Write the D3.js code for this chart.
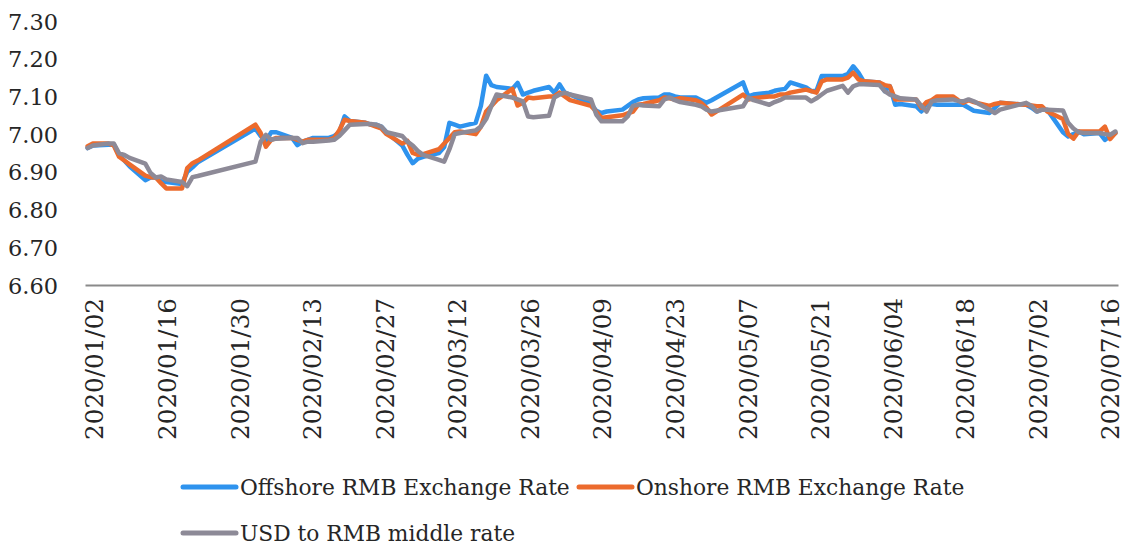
<!DOCTYPE html>
<html>
<head>
<meta charset="utf-8">
<script src="https://cdn.jsdelivr.net/npm/d3@7/dist/d3.min.js"></script>
<style>
  html, body { margin: 0; padding: 0; background: #fff; }
  svg { display: block; }
  text { font-family: "DejaVu Serif", "Liberation Serif", serif; fill: #262626; }
</style>
</head>
<body>
<svg id="chart" width="1126" height="547"></svg>
<script>
// ---- Data (trading days, 2020) ----
const dates = [
  "2020-01-02","2020-01-03","2020-01-06","2020-01-07","2020-01-08","2020-01-09","2020-01-10",
  "2020-01-13","2020-01-14","2020-01-15","2020-01-16","2020-01-17","2020-01-20","2020-01-21",
  "2020-01-22","2020-01-23",
  "2020-02-03","2020-02-04","2020-02-05","2020-02-06","2020-02-07","2020-02-10","2020-02-11",
  "2020-02-12","2020-02-13","2020-02-14","2020-02-17","2020-02-18","2020-02-19","2020-02-20",
  "2020-02-21","2020-02-24","2020-02-25","2020-02-26","2020-02-27","2020-02-28",
  "2020-03-02","2020-03-03","2020-03-04","2020-03-05","2020-03-06","2020-03-09","2020-03-10",
  "2020-03-11","2020-03-12","2020-03-13","2020-03-16","2020-03-17","2020-03-18","2020-03-19",
  "2020-03-20","2020-03-23","2020-03-24","2020-03-25","2020-03-26","2020-03-27","2020-03-30",
  "2020-03-31",
  "2020-04-01","2020-04-02","2020-04-03","2020-04-07","2020-04-08","2020-04-09","2020-04-10",
  "2020-04-13","2020-04-14","2020-04-15","2020-04-16","2020-04-17","2020-04-20","2020-04-21",
  "2020-04-22","2020-04-23","2020-04-24","2020-04-27","2020-04-28","2020-04-29","2020-04-30",
  "2020-05-06","2020-05-07","2020-05-08","2020-05-11","2020-05-12","2020-05-13","2020-05-14",
  "2020-05-15","2020-05-18","2020-05-19","2020-05-20","2020-05-21","2020-05-22","2020-05-25",
  "2020-05-26","2020-05-27","2020-05-28","2020-05-29",
  "2020-06-01","2020-06-02","2020-06-03","2020-06-04","2020-06-05","2020-06-08","2020-06-09",
  "2020-06-10","2020-06-11","2020-06-12","2020-06-15","2020-06-16","2020-06-17","2020-06-18",
  "2020-06-19","2020-06-22","2020-06-23","2020-06-24","2020-06-29","2020-06-30",
  "2020-07-01","2020-07-02","2020-07-03","2020-07-06","2020-07-07","2020-07-08","2020-07-09",
  "2020-07-10","2020-07-13","2020-07-14","2020-07-15","2020-07-16"
];

const offshore = [
  6.963,6.970,6.972,6.972,6.945,6.930,6.915,
  6.878,6.885,6.885,6.875,6.873,6.868,6.900,
  6.912,6.925,
  7.015,6.995,6.980,7.005,7.005,6.990,6.971,
  6.980,6.985,6.990,6.990,6.995,7.005,7.047,
  7.035,7.030,7.025,7.025,7.020,7.005,
  6.970,6.945,6.923,6.935,6.940,6.950,6.966,
  7.030,7.025,7.020,7.030,7.075,7.155,7.130,
  7.125,7.120,7.136,7.105,7.110,7.115,7.125,
  7.110,
  7.132,7.110,7.105,7.080,7.062,7.056,7.060,
  7.065,7.075,7.085,7.092,7.095,7.097,7.105,
  7.105,7.100,7.097,7.097,7.090,7.083,7.090,
  7.137,7.100,7.105,7.110,7.115,7.118,7.120,
  7.137,7.124,7.114,7.115,7.154,7.154,7.154,
  7.160,7.180,7.163,7.140,
  7.137,7.114,7.127,7.078,7.080,7.074,7.060,
  7.083,7.080,7.078,7.078,7.078,7.078,7.070,
  7.062,7.056,7.070,7.083,7.078,7.070,
  7.060,7.065,7.065,7.005,6.994,7.000,7.007,
  7.000,7.003,6.985,6.995,7.003
];

const onshore = [
  6.968,6.975,6.975,6.970,6.940,6.930,6.920,
  6.890,6.886,6.885,6.870,6.856,6.856,6.910,
  6.923,6.930,
  7.025,7.003,6.967,6.985,6.990,6.990,6.985,
  6.980,6.985,6.985,6.985,6.990,7.010,7.038,
  7.035,7.030,7.025,7.020,7.015,7.000,
  6.975,6.982,6.950,6.945,6.947,6.960,6.975,
  6.990,7.005,7.007,7.000,7.020,7.060,7.075,
  7.090,7.120,7.076,7.083,7.097,7.095,7.100,
  7.100,
  7.110,7.100,7.090,7.075,7.060,7.043,7.045,
  7.050,7.055,7.060,7.078,7.080,7.090,7.097,
  7.095,7.092,7.095,7.090,7.083,7.070,7.052,
  7.105,7.092,7.095,7.100,7.100,7.105,7.105,
  7.110,7.118,7.114,7.110,7.140,7.145,7.145,
  7.150,7.163,7.145,7.140,
  7.137,7.130,7.127,7.092,7.092,7.092,7.070,
  7.085,7.090,7.100,7.100,7.090,7.083,7.090,
  7.085,7.075,7.080,7.083,7.078,7.076,
  7.074,7.074,7.060,7.040,7.000,6.988,7.007,
  7.007,7.007,7.020,6.987,7.003
];

const middleRate = [
  6.963,6.970,6.975,6.975,6.949,6.945,6.937,
  6.922,6.897,6.885,6.888,6.880,6.873,6.862,
  6.886,6.889,
  6.927,6.980,6.998,6.985,6.988,6.990,6.990,
  6.976,6.980,6.980,6.983,6.985,6.995,7.010,
  7.025,7.027,7.027,7.025,7.020,7.005,
  6.995,6.980,6.970,6.955,6.945,6.932,6.927,
  6.960,7.000,7.003,7.010,7.020,7.040,7.075,
  7.105,7.097,7.092,7.087,7.047,7.045,7.049,
  7.097,
  7.105,7.110,7.105,7.092,7.052,7.034,7.034,
  7.034,7.047,7.075,7.078,7.076,7.074,7.092,
  7.097,7.090,7.085,7.078,7.074,7.065,7.060,
  7.074,7.097,7.090,7.078,7.085,7.090,7.097,
  7.097,7.097,7.087,7.095,7.105,7.115,7.128,
  7.110,7.127,7.132,7.132,
  7.130,7.114,7.105,7.100,7.095,7.092,7.075,
  7.060,7.087,7.090,7.092,7.088,7.087,7.092,
  7.087,7.065,7.056,7.065,7.083,7.075,
  7.060,7.065,7.065,7.063,7.030,7.015,7.005,
  7.003,7.003,7.000,6.998,7.007
];

const seriesNames = ["Offshore RMB Exchange Rate", "Onshore RMB Exchange Rate", "USD to RMB middle rate"];
const seriesColors = ["#2E93EE", "#EC6B2D", "#8D8A97"];
const yTicks = [6.6, 6.7, 6.8, 6.9, 7.0, 7.1, 7.2, 7.3];
const xTickLabels = ["2020/01/02","2020/01/16","2020/01/30","2020/02/13","2020/02/27","2020/03/12",
  "2020/03/26","2020/04/09","2020/04/23","2020/05/07","2020/05/21","2020/06/04","2020/06/18",
  "2020/07/02","2020/07/16"];

// ---- Layout ----
const svg = d3.select("#chart");
const plotLeft = 85, plotRight = 1118, plotTop = 21, plotBottom = 285;

const parse = d3.utcParse("%Y-%m-%d");
const parseLabel = d3.utcParse("%Y/%m/%d");
const dayMs = 86400000;
const first = parse(dates[0]), last = parse(dates[dates.length - 1]);

const x = d3.scaleUtc()
  .domain([new Date(+first - dayMs / 2), new Date(+last + dayMs / 2)])
  .range([plotLeft, plotRight]);
// label band of the date axis (tick labels sit slightly inside the plot ends)
const xLabel = d3.scaleUtc().domain([first, last]).range([94, 1110]);
const y = d3.scaleLinear().domain([6.6, 7.3]).range([plotBottom, plotTop]);

function fitFont(sel, sampleText, targetWidth, baseSize) {
  const t = svg.append("text").attr("font-size", baseSize).text(sampleText);
  const w = t.node().getComputedTextLength();
  t.remove();
  return baseSize * targetWidth / w;
}

// Y axis (labels only)
const yFont = fitFont(svg, "7.30", 50, 22);
const yAxis = d3.axisLeft(y).tickValues(yTicks).tickFormat(d3.format(".2f")).tickSize(0).tickPadding(0);
const gy = svg.append("g").attr("transform", `translate(58,0)`).call(yAxis);
gy.select(".domain").remove();
gy.selectAll("text").attr("font-size", yFont).attr("font-family", null).attr("fill", "#262626").attr("dy", "0.36em");

// X axis baseline
const gx = svg.append("g").attr("transform", `translate(0,${plotBottom})`)
  .call(d3.axisBottom(x).tickValues([]).tickSizeOuter(0));
gx.select(".domain").attr("stroke", "#8a8a8a").attr("stroke-width", 2.2);

// X tick labels
const xFont = fitFont(svg, "2020/01/02", 142, 22);
const xTickDates = xTickLabels.map(parseLabel);
const gxl = svg.append("g").attr("transform", `translate(0,${plotBottom})`)
  .call(d3.axisBottom(xLabel).tickValues(xTickDates).tickFormat(d3.utcFormat("%Y/%m/%d")).tickSize(0).tickPadding(0));
gxl.select(".domain").remove();
gxl.selectAll("text")
  .attr("font-size", xFont).attr("font-family", null).attr("fill", "#262626")
  .attr("transform", "rotate(-90)")
  .attr("text-anchor", "end")
  .attr("x", -13).attr("y", 0).attr("dy", "0.36em");

// Lines
const allSeries = [offshore, onshore, middleRate];
const line = d3.line()
  .x((d, i) => x(parse(dates[i])))
  .y(d => y(d));
svg.append("g").selectAll("path").data(allSeries).join("path")
  .attr("d", line)
  .attr("fill", "none")
  .attr("stroke", (d, i) => seriesColors[i])
  .attr("stroke-width", 4.5)
  .attr("stroke-linejoin", "round")
  .attr("stroke-linecap", "round");

// Legend
const legFont = fitFont(svg, seriesNames[0], 330, 22);
const legendItems = [
  {x: 183, y: 487}, {x: 579, y: 487}, {x: 183, y: 533}
];
const lg = svg.append("g").selectAll("g").data(seriesNames).join("g")
  .attr("transform", (d, i) => `translate(${legendItems[i].x},${legendItems[i].y})`);
lg.append("line").attr("x1", 0).attr("x2", 53).attr("y1", 0).attr("y2", 0)
  .attr("stroke", (d, i) => seriesColors[i]).attr("stroke-width", 5).attr("stroke-linecap", "round");
lg.append("text").attr("x", 57).attr("dy", "0.36em").attr("font-size", legFont).text(d => d);
</script>
</body>
</html>
